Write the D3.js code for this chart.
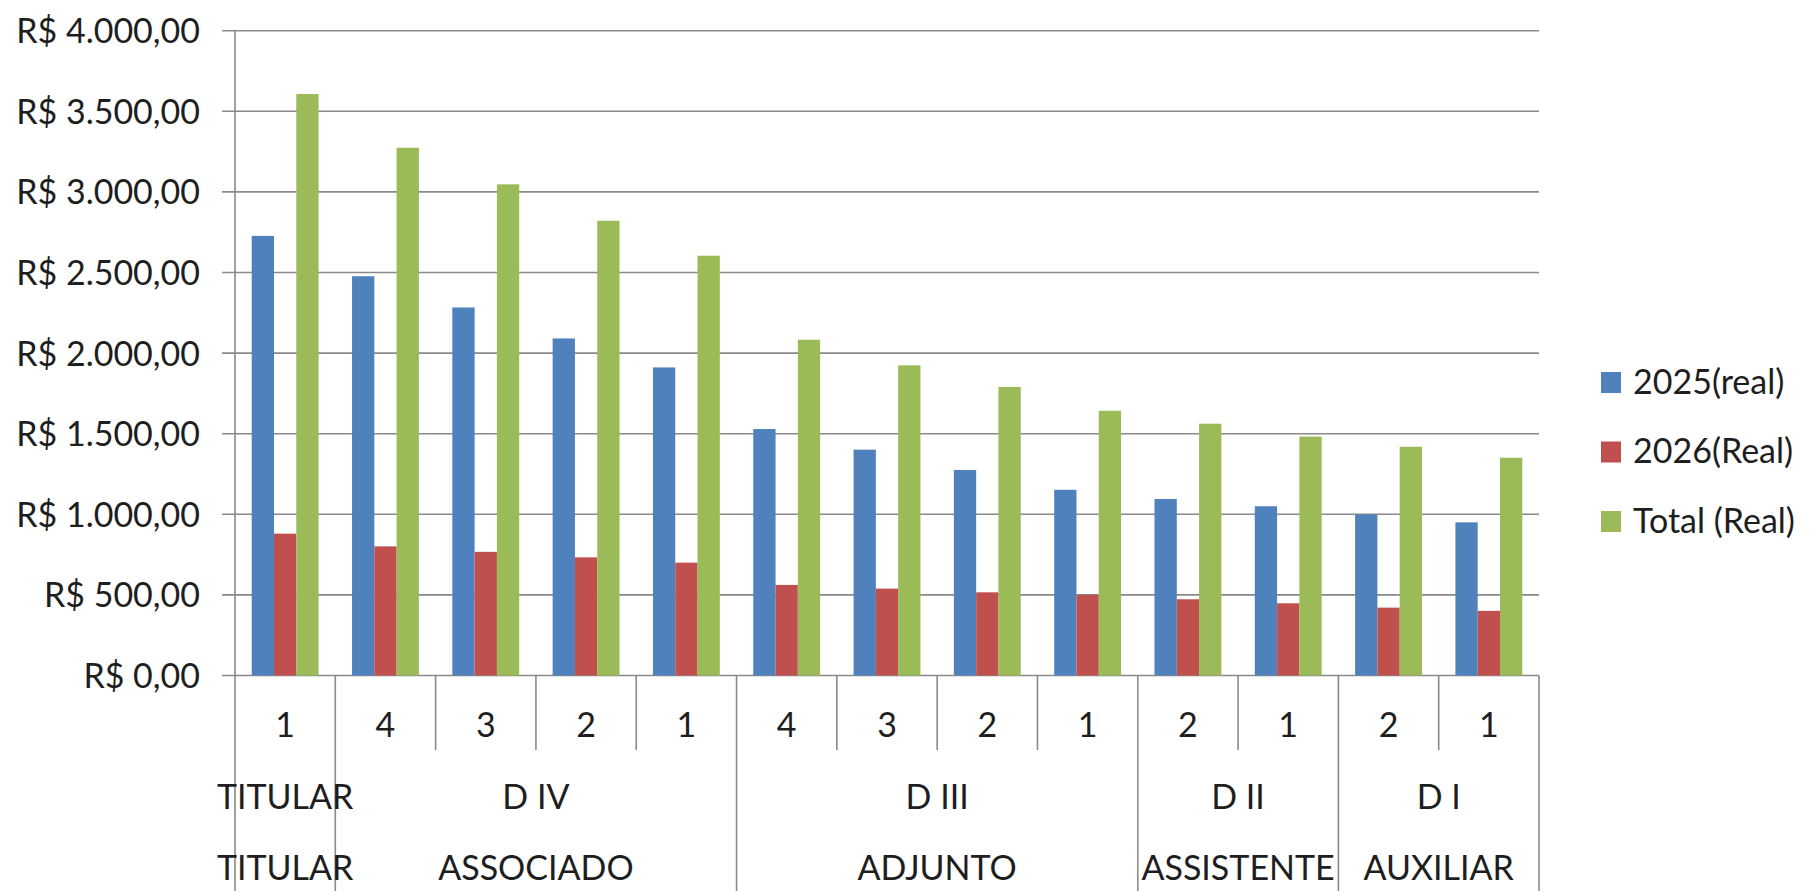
<!DOCTYPE html>
<html>
<head>
<meta charset="utf-8">
<script src="https://cdn.jsdelivr.net/npm/d3@7/dist/d3.min.js"></script>
<style>
  html, body { margin: 0; padding: 0; background: #fff; }
  svg { display: block; }
  text { font-family: Lato, "Open Sans", sans-serif; fill: #1e1e1e; }
</style>
</head>
<body>
<svg id="chart" width="1812" height="891"></svg>
<script>
// ---- data ----
const categories = ["1", "4", "3", "2", "1", "4", "3", "2", "1", "2", "1", "2", "1"];
const level2Labels = ["TITULAR", "D IV", "D III", "D II", "D I"];
const level3Labels = ["TITULAR", "ASSOCIADO", "ADJUNTO", "ASSISTENTE", "AUXILIAR"];
const groupSpans = [1, 4, 4, 2, 2];
const seriesNames = ["2025(real)", "2026(Real)", "Total (Real)"];
const seriesColors = ["#4F81BD", "#C0504D", "#9BBB59"];
const values2025 = [2727, 2477, 2283, 2091, 1911, 1529, 1401, 1275, 1152, 1095, 1050, 998, 950];
const values2026 = [880, 801, 767, 733, 700, 562, 539, 516, 500, 473, 448, 421, 401];
const valuesTotal = [3607, 3274, 3047, 2821, 2604, 2083, 1924, 1790, 1642, 1562, 1482, 1419, 1351];
const yTicks = [0, 500, 1000, 1500, 2000, 2500, 3000, 3500, 4000];

const seriesValues = [values2025, values2026, valuesTotal];

(function () {
  // ---- layout ----
  const svg = d3.select("#chart");
  const pLeft = 235, pRight = 1539, pTop = 30.7, pBottom = 675.5;
  const svgH = 891;

  const idx = categories.map((d, i) => i);
  const x0 = d3.scaleBand().domain(idx).range([pLeft, pRight]).padding(0);
  const bw = x0.bandwidth();
  const x1 = d3.scaleBand().domain(seriesNames).range([bw / 6, bw * 5 / 6]).padding(0);
  const y = d3.scaleLinear().domain([0, 4000]).range([pBottom, pTop]);

  const loc = d3.formatLocale({decimal: ",", thousands: ".", grouping: [3], currency: ["R$ ", ""]});
  const fmt = loc.format("$,.2f");

  const gridColor = "#8a8a8a";

  // gridlines
  svg.append("g")
    .selectAll("line")
    .data(yTicks)
    .join("line")
    .attr("x1", pLeft - 13).attr("x2", pRight)
    .attr("y1", d => y(d)).attr("y2", d => y(d))
    .attr("stroke", gridColor).attr("stroke-width", 1.6);

  // y axis labels via d3 axis
  const yAxis = d3.axisLeft(y).tickValues(yTicks).tickFormat(fmt).tickSize(0).tickPadding(35);
  const gy = svg.append("g").attr("transform", `translate(${pLeft},0)`).call(yAxis);
  gy.select(".domain").remove();
  gy.selectAll("text")
    .attr("font-family", "Lato, 'Open Sans', sans-serif")
    .attr("font-size", 34)
    .attr("fill", "#1e1e1e")
    .attr("dy", "0.35em");

  // bars
  const gBars = svg.append("g");
  seriesNames.forEach((s, si) => {
    gBars.append("g")
      .selectAll("rect")
      .data(seriesValues[si].map((v, i) => ({i, v})))
      .join("rect")
      .attr("x", d => x0(d.i) + x1(s))
      .attr("width", x1.bandwidth())
      .attr("y", d => y(d.v))
      .attr("height", d => y(0) - y(d.v))
      .attr("fill", seriesColors[si]);
  });

  // y axis vertical line (runs to bottom)
  svg.append("line")
    .attr("x1", pLeft).attr("x2", pLeft).attr("y1", pTop).attr("y2", svgH)
    .attr("stroke", gridColor).attr("stroke-width", 1.6);

  // category separators
  const groupStarts = [];
  let acc = 0;
  groupSpans.forEach(s => { groupStarts.push(acc); acc += s; });
  const longSet = new Set([...groupStarts, categories.length]);
  const sepIdx = d3.range(1, categories.length + 1);
  svg.append("g")
    .selectAll("line")
    .data(sepIdx)
    .join("line")
    .attr("x1", d => pLeft + d * bw).attr("x2", d => pLeft + d * bw)
    .attr("y1", pBottom)
    .attr("y2", d => longSet.has(d) ? svgH : 750)
    .attr("stroke", gridColor).attr("stroke-width", 1.6);

  // category labels - level 1
  svg.append("g")
    .selectAll("text")
    .data(categories)
    .join("text")
    .attr("x", (d, i) => x0(i) + bw / 2)
    .attr("y", 737)
    .attr("text-anchor", "middle")
    .attr("font-size", 34)
    .text(d => d);

  // level 2 and 3
  const groups = groupSpans.map((s, gi) => ({
    cx: pLeft + (groupStarts[gi] + s / 2) * bw,
    l2: level2Labels[gi], l3: level3Labels[gi]
  }));
  svg.append("g")
    .selectAll("text")
    .data(groups)
    .join("text")
    .attr("x", d => d.cx).attr("y", 809)
    .attr("text-anchor", "middle").attr("font-size", 34)
    .text(d => d.l2);
  svg.append("g")
    .selectAll("text")
    .data(groups)
    .join("text")
    .attr("x", d => d.cx).attr("y", 880)
    .attr("text-anchor", "middle").attr("font-size", 34)
    .text(d => d.l3);

  // legend
  const legend = svg.append("g");
  seriesNames.forEach((s, i) => {
    const cy = 382.5 + i * 69.5;
    legend.append("rect")
      .attr("x", 1601).attr("y", cy - 10.5).attr("width", 20).attr("height", 21)
      .attr("fill", seriesColors[i]);
    legend.append("text")
      .attr("x", 1633).attr("y", cy + 11)
      .attr("font-size", 34)
      .text(s);
  });
})();
</script>
</body>
</html>
